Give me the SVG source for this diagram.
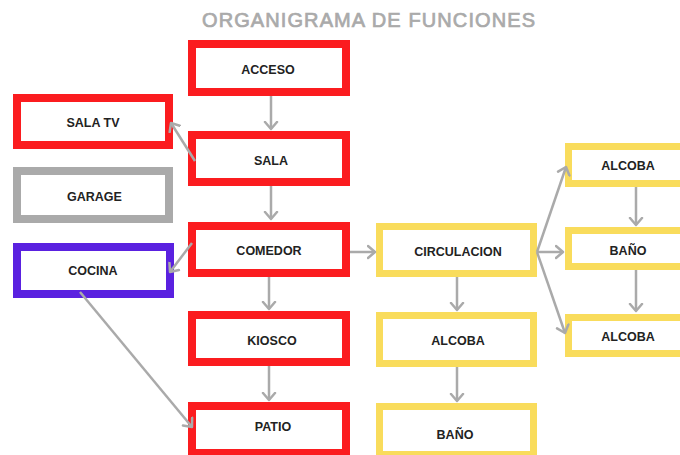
<svg xmlns="http://www.w3.org/2000/svg" width="680" height="455" viewBox="0 0 680 455">
<defs>
<marker id="ah" markerUnits="userSpaceOnUse" markerWidth="12" markerHeight="16" refX="8" refY="7" orient="auto" viewBox="0 0 12 14">
<path d="M1,1 L8,7 L1,13" fill="none" stroke="#aaaaaa" stroke-width="2.5" stroke-linecap="round" stroke-linejoin="round"/>
</marker>
</defs>
<style>
.box{fill:#ffffff;}
.red{stroke:#fb1c1f;stroke-width:8;}
.gray{stroke:#aaaaaa;stroke-width:8;}
.purple{stroke:#5a21e0;stroke-width:8;}
.yellow{stroke:#f9dc5c;stroke-width:7;}
.lbl{font-family:"Liberation Sans",Arial,sans-serif;font-weight:bold;font-size:12.5px;fill:#222222;text-anchor:middle;}
.title{font-family:"Liberation Sans",Arial,sans-serif;font-weight:normal;font-size:20px;fill:#aaaaaa;stroke:#aaaaaa;stroke-width:0.7;text-anchor:middle;}
.conn line{stroke:#aaaaaa;stroke-width:2.5;marker-end:url(#ah);}
</style>
<rect width="680" height="455" fill="#ffffff"/>
<text class="title" x="368.5" y="27" textLength="333" lengthAdjust="spacing">ORGANIGRAMA DE FUNCIONES</text>

<g id="acceso"><rect class="box red" x="192" y="44" width="154" height="48"/><text class="lbl" x="268" y="74">ACCESO</text></g>
<g id="sala"><rect class="box red" x="192" y="135" width="154" height="47"/><text class="lbl" x="271" y="164.5">SALA</text></g>
<g id="comedor"><rect class="box red" x="192" y="226" width="154" height="47"/><text class="lbl" x="269" y="254.5">COMEDOR</text></g>
<g id="kiosco"><rect class="box red" x="192" y="315" width="154" height="47"/><text class="lbl" x="272" y="344.5">KIOSCO</text></g>
<g id="patio"><rect class="box red" x="192" y="406" width="154" height="47"/><text class="lbl" x="273" y="430.5">PATIO</text></g>
<g id="salatv"><rect class="box red" x="17" y="98" width="152" height="47"/><text class="lbl" x="93" y="127">SALA TV</text></g>
<g id="garage"><rect class="box gray" x="17" y="171" width="152" height="48"/><text class="lbl" x="94.5" y="200.5">GARAGE</text></g>
<g id="cocina"><rect class="box purple" x="17" y="247" width="153" height="47"/><text class="lbl" x="93" y="274.5">COCINA</text></g>
<g id="circulacion"><rect class="box yellow" x="379.5" y="226.5" width="154" height="47"/><text class="lbl" x="458" y="256">CIRCULACION</text></g>
<g id="alcoba1"><rect class="box yellow" x="379.5" y="315.5" width="154" height="48"/><text class="lbl" x="458" y="344.5">ALCOBA</text></g>
<g id="bano1"><rect class="box yellow" x="379.5" y="406.5" width="154" height="48"/><text class="lbl" x="455" y="438.5">BAÑO</text></g>
<g id="alcoba2"><rect class="box yellow" x="568.5" y="146.5" width="120" height="37"/><text class="lbl" x="628" y="169.5">ALCOBA</text></g>
<g id="bano2"><rect class="box yellow" x="568.5" y="230.5" width="120" height="36"/><text class="lbl" x="628" y="255">BAÑO</text></g>
<g id="alcoba3"><rect class="box yellow" x="568.5" y="317.5" width="120" height="36"/><text class="lbl" x="628" y="340.5">ALCOBA</text></g>

<g id="connectors" class="conn">
<line x1="271" y1="96" x2="271" y2="129"/>
<line x1="271" y1="186" x2="271" y2="219"/>
<line x1="195" y1="161" x2="171" y2="123"/>
<line x1="192" y1="243" x2="170" y2="272"/>
<line x1="269" y1="277" x2="269" y2="309"/>
<line x1="269" y1="366" x2="269" y2="400"/>
<line x1="80" y1="292" x2="192" y2="427"/>
<line x1="350" y1="252" x2="375" y2="252"/>
<line x1="457" y1="277" x2="457" y2="310"/>
<line x1="457" y1="367" x2="457" y2="401"/>
<line x1="537" y1="252" x2="566" y2="167"/>
<line x1="537" y1="252" x2="563" y2="252"/>
<line x1="537" y1="252" x2="565" y2="333"/>
<line x1="636" y1="187" x2="636" y2="225"/>
<line x1="636" y1="270" x2="636" y2="311"/>
</g>
</svg>
